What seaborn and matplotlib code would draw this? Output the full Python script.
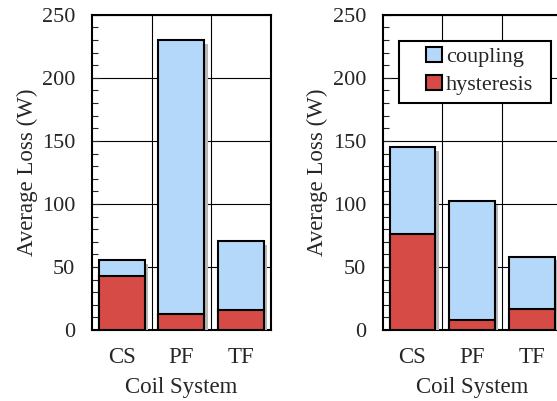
import matplotlib
matplotlib.use("Agg")
import matplotlib.pyplot as plt
import matplotlib.patheffects as pe
from matplotlib.patches import Rectangle
from matplotlib.ticker import MultipleLocator
import seaborn as sns
import pandas as pd

categories = ["CS", "PF", "TF"]
left_total = [55.5, 230, 70.5]
left_hysteresis = [43, 12.5, 16]
right_total = [145, 102, 58]
right_hysteresis = [76, 8, 17]

sns.set_style("white")
plt.rcParams["font.family"] = ["Liberation Serif", "DejaVu Serif"]
plt.rcParams["font.size"] = 16

BLUE = "#B4D8FA"
RED = "#D64B45"

fig = plt.figure(figsize=(5.57, 4.01), dpi=100)
ax1 = fig.add_axes([0.165, 0.177, 0.321, 0.786])
ax2 = fig.add_axes([0.687, 0.177, 0.321, 0.786])

shadow = [pe.SimplePatchShadow(offset=(2.5, -2.5), shadow_rgbFace="0.72", alpha=1.0), pe.Normal()]

def draw(ax, total, hyst, legend):
    df = pd.DataFrame({"cat": categories, "total": total, "hyst": hyst})
    sns.barplot(data=df, x="cat", y="total", color=BLUE, saturation=1, width=0.77,
                edgecolor="black", linewidth=1.5, ax=ax, label="coupling", zorder=3)
    sns.barplot(data=df, x="cat", y="hyst", color=RED, saturation=1, width=0.77,
                edgecolor="black", linewidth=1.5, ax=ax, label="hysteresis", zorder=3)
    for p in ax.patches:
        p.set_path_effects(shadow)
    ax.set_ylim(0, 250)
    ax.set_xlim(-0.5, 2.5)
    ax.yaxis.set_major_locator(MultipleLocator(50))
    ax.yaxis.set_minor_locator(MultipleLocator(10))
    ax.grid(True, axis="y", which="major", color="black", linewidth=0.8, zorder=0)
    for xv in [0.5, 1.5]:
        ax.axvline(xv, color="black", linewidth=0.8, zorder=0)
    ax.set_axisbelow(True)
    ax.tick_params(axis="y", which="major", direction="in", length=6, width=0.8, pad=12,
                   left=True, labelsize=16)
    ax.tick_params(axis="y", which="minor", direction="in", length=4, width=0.8, left=True)
    ax.tick_params(axis="x", length=0, pad=12, labelsize=16.5)
    for s in ax.spines.values():
        s.set_visible(True)
        s.set_color("black")
        s.set_linewidth(1.5)
    ax.set_xlabel("Coil System", labelpad=7, fontsize=16.5)
    ax.set_ylabel("Average Loss (W)", labelpad=3, fontsize=16.5)
    if legend:
        frame = Rectangle((0.091, 0.721), 0.849, 0.197, transform=ax.transAxes,
                          facecolor="white", edgecolor="black", linewidth=1.5, zorder=4.5)
        ax.add_patch(frame)
        leg = ax.legend(loc="center left", bbox_to_anchor=(0.242, 0.822), frameon=False,
                        handlelength=0.71, handleheight=0.71,
                        handletextpad=0.18, borderpad=0, labelspacing=0.33,
                        borderaxespad=0, fontsize=16)
        leg.set_zorder(5)
        for h in leg.legend_handles:
            h.set_path_effects([])
    else:
        l = ax.get_legend()
        if l is not None:
            l.remove()

draw(ax1, left_total, left_hysteresis, False)
draw(ax2, right_total, right_hysteresis, True)

fig.savefig("out.png", dpi=100)
